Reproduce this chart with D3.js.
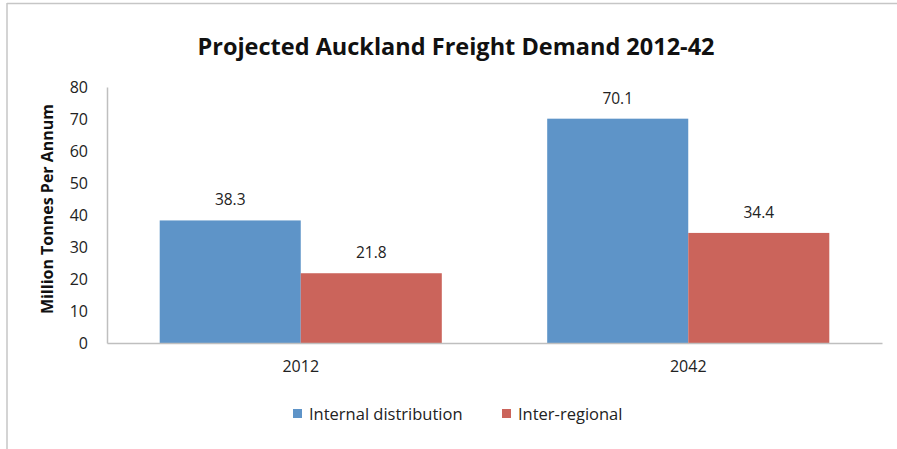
<!DOCTYPE html>
<html><head><meta charset="utf-8">
<script src="https://cdn.jsdelivr.net/npm/d3@7"></script>
<style>body{margin:0;background:#fff}svg{display:block}</style>
</head><body>
<script>
const categories = ["2012", "2042"];
const seriesNames = ["Internal distribution", "Inter-regional"];
const internalValues = [38.3, 70.1];
const interRegionalValues = [21.8, 34.4];
const yTicks = [0, 10, 20, 30, 40, 50, 60, 70, 80];
const colors = ["#5E94C8", "#CB645B"];

(function () {
const W = 897, H = 449;
const svg = d3.select("body").append("svg").attr("width", W).attr("height", H);
const font = "'Open Sans', 'Liberation Sans', sans-serif";

// frame
svg.append("line").attr("x1", 7).attr("x2", W).attr("y1", 3.5).attr("y2", 3.5).attr("stroke", "#c6c6c6").attr("stroke-width", 1.5);
svg.append("line").attr("x1", 7).attr("x2", 7).attr("y1", 3).attr("y2", H).attr("stroke", "#c6c6c6").attr("stroke-width", 1.5);

const mLeft = 107, mRight = 882, mTop = 87, mBottom = 343;
const x0 = d3.scaleBand().domain(categories).range([mLeft, mRight]).paddingInner(0.272).paddingOuter(0.136);
const x1 = d3.scaleBand().domain([0, 1]).range([0, x0.bandwidth()]);
const y = d3.scaleLinear().domain([0, 80]).range([mBottom, mTop]);

svg.append("text").attr("x", 456).attr("y", 55).attr("text-anchor", "middle")
  .attr("font-family", font).attr("font-weight", "bold").attr("font-size", 23.5).attr("fill", "#111")
  .text("Projected Auckland Freight Demand 2012-42");

// y axis
const yAxis = svg.append("g").attr("transform", `translate(${mLeft},0)`)
  .call(d3.axisLeft(y).tickValues(yTicks).tickSize(0).tickPadding(19));
yAxis.select(".domain").attr("stroke", "#bfbfbf").attr("stroke-width", 1.5);
yAxis.selectAll("text").attr("font-family", font).attr("font-size", 16).attr("fill", "#222");

svg.append("text").attr("transform", `translate(53,${(mTop + mBottom) / 2 - 6}) rotate(-90)`)
  .attr("text-anchor", "middle").attr("font-family", font).attr("font-weight", "bold")
  .attr("font-size", 16).attr("fill", "#111").text("Million Tonnes Per Annum");

const series = [internalValues, interRegionalValues];
const g = svg.append("g");
categories.forEach((c, ci) => {
  series.forEach((vals, si) => {
    const v = vals[ci];
    const bx = x0(c) + x1(si);
    g.append("rect").attr("x", bx).attr("y", y(v)).attr("width", x1.bandwidth()).attr("height", y(0) - y(v))
      .attr("fill", colors[si]);
    g.append("text").attr("x", bx + x1.bandwidth() / 2).attr("y", y(v) - 15).attr("text-anchor", "middle")
      .attr("font-family", font).attr("font-size", 15.5).attr("fill", "#222").text(v.toFixed(1));
  });
});

// x axis
const xAxis = svg.append("g").attr("transform", `translate(0,${mBottom})`)
  .call(d3.axisBottom(x0).tickSize(0).tickPadding(18).tickSizeOuter(0));
xAxis.select(".domain").attr("stroke", "#bfbfbf").attr("stroke-width", 1.5);
xAxis.selectAll("text").attr("font-family", font).attr("font-size", 16).attr("fill", "#222");

// legend
const legendX = [293, 502];
seriesNames.forEach((n, i) => {
  svg.append("rect").attr("x", legendX[i]).attr("y", 409).attr("width", 9).attr("height", 9).attr("fill", colors[i]);
  svg.append("text").attr("x", legendX[i] + 16).attr("y", 419.5).attr("font-family", font)
    .attr("font-size", 16.5).attr("fill", "#222").text(n);
});
})();
</script>
</body></html>
